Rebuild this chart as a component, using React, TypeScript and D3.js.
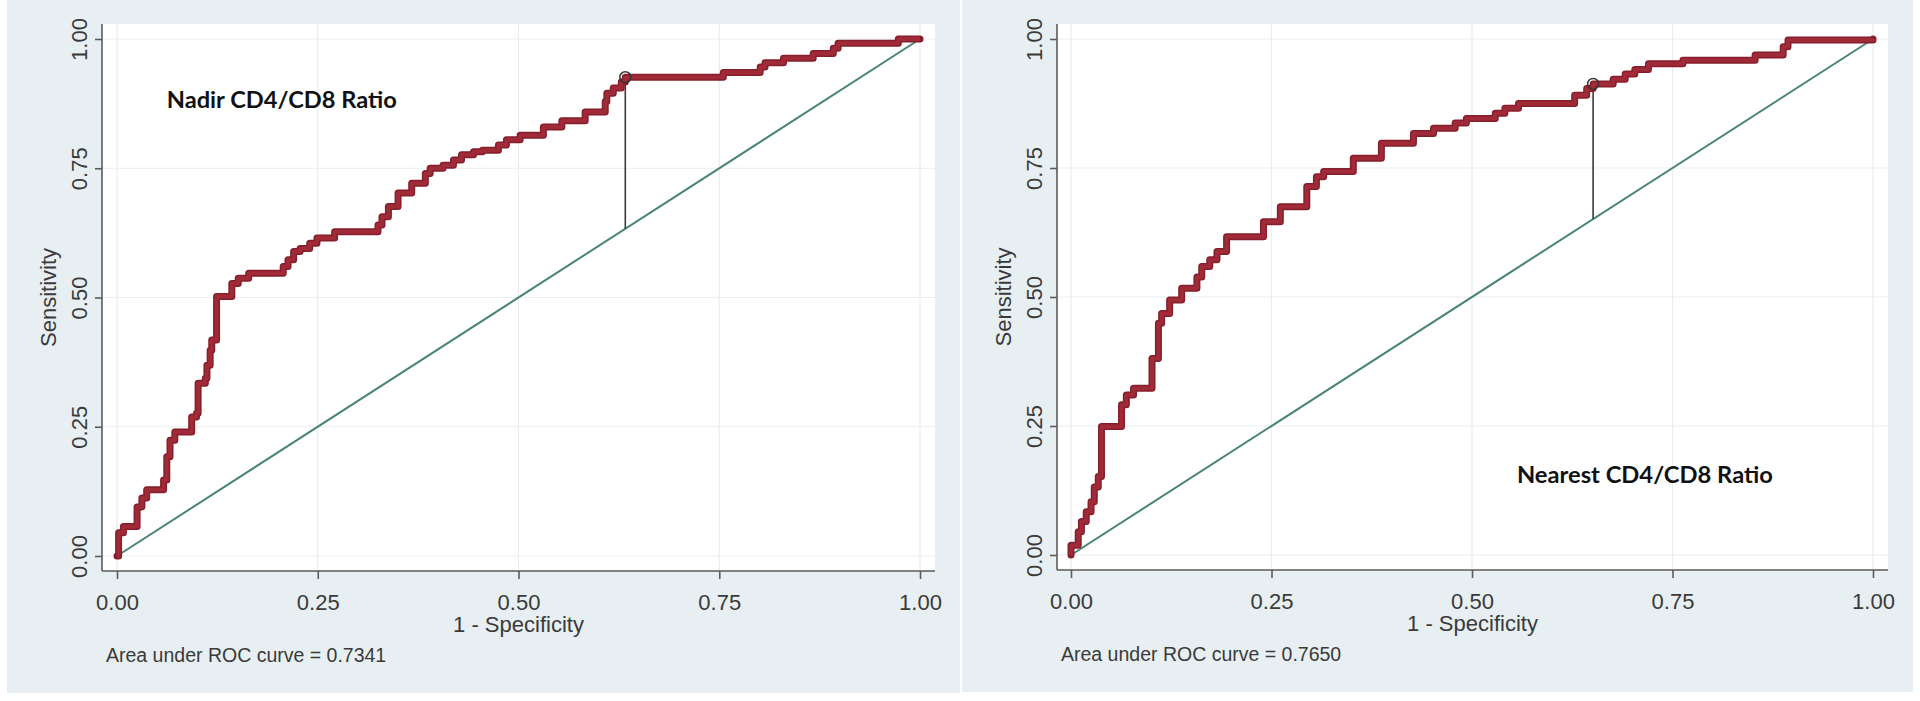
import React, { useEffect, useRef } from 'react';
import * as d3 from 'd3';

const tickValues = [0, 0.25, 0.5, 0.75, 1];

// Nadir CD4/CD8 ratio: ROC step points (1 - specificity, sensitivity)
const nadirFpr = [0, 0.002, 0.008, 0.025, 0.031, 0.037, 0.058, 0.062, 0.066, 0.072, 0.093, 0.099, 0.101, 0.110, 0.112, 0.116, 0.118, 0.124, 0.143, 0.151, 0.164, 0.207, 0.213, 0.220, 0.228, 0.240, 0.249, 0.271, 0.325, 0.330, 0.338, 0.350, 0.367, 0.384, 0.390, 0.406, 0.419, 0.429, 0.444, 0.455, 0.475, 0.485, 0.502, 0.531, 0.554, 0.583, 0.608, 0.610, 0.618, 0.628, 0.633, 0.755, 0.801, 0.807, 0.830, 0.867, 0.892, 0.898, 0.973, 1.0];
const nadirTpr = [0, 0.045, 0.057, 0.095, 0.112, 0.128, 0.147, 0.192, 0.224, 0.240, 0.269, 0.276, 0.334, 0.344, 0.369, 0.398, 0.418, 0.502, 0.527, 0.537, 0.547, 0.560, 0.573, 0.589, 0.595, 0.605, 0.615, 0.627, 0.640, 0.656, 0.676, 0.702, 0.721, 0.740, 0.750, 0.756, 0.766, 0.776, 0.782, 0.785, 0.795, 0.805, 0.814, 0.830, 0.842, 0.859, 0.879, 0.895, 0.905, 0.917, 0.926, 0.935, 0.946, 0.954, 0.963, 0.972, 0.982, 0.992, 1.0, 1.0];
const nadirCut = [0.633, 0.926];

// Nearest CD4/CD8 ratio
const nearestFpr = [0, 0, 0.009, 0.013, 0.019, 0.025, 0.029, 0.034, 0.038, 0.063, 0.069, 0.078, 0.101, 0.109, 0.113, 0.123, 0.138, 0.157, 0.163, 0.173, 0.182, 0.194, 0.240, 0.261, 0.294, 0.306, 0.315, 0.352, 0.387, 0.427, 0.452, 0.479, 0.493, 0.529, 0.541, 0.558, 0.628, 0.643, 0.651, 0.676, 0.691, 0.703, 0.720, 0.763, 0.853, 0.888, 0.894, 1.0];
const nearestTpr = [0, 0.019, 0.045, 0.065, 0.084, 0.103, 0.132, 0.152, 0.249, 0.291, 0.310, 0.323, 0.381, 0.449, 0.468, 0.494, 0.517, 0.539, 0.559, 0.572, 0.588, 0.617, 0.646, 0.675, 0.714, 0.733, 0.743, 0.769, 0.798, 0.817, 0.827, 0.837, 0.846, 0.856, 0.866, 0.875, 0.891, 0.904, 0.913, 0.922, 0.932, 0.941, 0.952, 0.959, 0.969, 0.985, 0.998, 1.0];
const nearestCut = [0.651, 0.913];

const panelTitles = ['Nadir CD4/CD8 Ratio', 'Nearest CD4/CD8 Ratio'];
const aucValues = ['0.7341', '0.7650'];
const titlePos = [[0.062, 0.867], [0.556, 0.14]];

const panels = [
  { bg: [7, 960, 0, 693], plot: [102, 935, 24, 571], xr: [117, 920], yr: [556, 39], titleW: 230, fpr: nadirFpr, tpr: nadirTpr, cut: nadirCut },
  { bg: [962, 1913, 0, 692], plot: [1057, 1888, 24, 570], xr: [1071, 1873], yr: [555, 39], titleW: 256, fpr: nearestFpr, tpr: nearestTpr, cut: nearestCut },
];

const sans = '"Liberation Sans", Arial, sans-serif';

const App: React.FC = () => {
  const ref = useRef<SVGSVGElement>(null);

  useEffect(() => {
    const svg = d3.select(ref.current);
    svg.selectAll('*').remove();

    panels.forEach((p, k) => {
      const g = svg.append('g');
      const x = d3.scaleLinear().domain([0, 1]).range(p.xr);
      const y = d3.scaleLinear().domain([0, 1]).range(p.yr);
      const [px0, px1, py0, py1] = p.plot;

      // backgrounds
      g.append('rect')
        .attr('x', p.bg[0]).attr('y', p.bg[2])
        .attr('width', p.bg[1] - p.bg[0]).attr('height', p.bg[3] - p.bg[2])
        .attr('fill', '#e8eff2');
      g.append('rect')
        .attr('x', px0).attr('y', py0)
        .attr('width', px1 - px0).attr('height', py1 - py0)
        .attr('fill', '#ffffff');

      // grid
      g.selectAll('.gx').data(tickValues).enter().append('line')
        .attr('x1', d => x(d)).attr('x2', d => x(d))
        .attr('y1', py0).attr('y2', py1)
        .attr('stroke', '#e9eef0').attr('stroke-width', 1.2);
      g.selectAll('.gy').data(tickValues).enter().append('line')
        .attr('x1', px0).attr('x2', px1)
        .attr('y1', d => y(d)).attr('y2', d => y(d))
        .attr('stroke', '#e9eef0').attr('stroke-width', 1.2);

      // reference diagonal
      g.append('line')
        .attr('x1', x(0)).attr('y1', y(0)).attr('x2', x(1)).attr('y2', y(1))
        .attr('stroke', '#4a8574').attr('stroke-width', 2);

      // cutoff drop line
      g.append('line')
        .attr('x1', x(p.cut[0])).attr('x2', x(p.cut[0]))
        .attr('y1', y(p.cut[1])).attr('y2', y(p.cut[0]))
        .attr('stroke', '#3a3a3a').attr('stroke-width', 1.6);

      // ROC curve
      const line = d3.line<number>()
        .x((d, i) => x(p.fpr[i]))
        .y(d => y(d))
        .curve(d3.curveStepAfter);
      g.append('path')
        .datum(p.tpr)
        .attr('fill', 'none')
        .attr('stroke', '#861f2b')
        .attr('stroke-width', 7)
        .attr('stroke-linejoin', 'round')
        .attr('stroke-linecap', 'round')
        .attr('d', line);
      g.append('path')
        .datum(p.tpr)
        .attr('fill', 'none')
        .attr('stroke', '#a02a38')
        .attr('stroke-width', 4)
        .attr('stroke-linejoin', 'round')
        .attr('d', line);

      // cutoff marker
      g.append('circle')
        .attr('cx', x(p.cut[0])).attr('cy', y(p.cut[1])).attr('r', 5.5)
        .attr('fill', 'none').attr('stroke', '#333').attr('stroke-width', 1.5);

      // axis lines
      g.append('line').attr('x1', px0).attr('x2', px0).attr('y1', py0).attr('y2', py1)
        .attr('stroke', '#5a5a5a').attr('stroke-width', 1.6);
      g.append('line').attr('x1', px0).attr('x2', px1).attr('y1', py1).attr('y2', py1)
        .attr('stroke', '#5a5a5a').attr('stroke-width', 1.6);

      // x axis
      const xa = g.append('g').attr('transform', `translate(0,${py1})`)
        .call(d3.axisBottom(x).tickValues(tickValues).tickFormat(d3.format('.2f')).tickSize(8));
      xa.select('.domain').remove();
      xa.selectAll('line').attr('stroke', '#5a5a5a').attr('stroke-width', 1.6);
      xa.selectAll('text').attr('y', 39).attr('dy', 0)
        .attr('fill', '#3a3a3a').style('font-family', sans).style('font-size', '22px');

      // y axis
      const ya = g.append('g').attr('transform', `translate(${px0},0)`)
        .call(d3.axisLeft(y).tickValues(tickValues).tickFormat(d3.format('.2f')).tickSize(7));
      ya.select('.domain').remove();
      ya.selectAll('line').attr('stroke', '#5a5a5a').attr('stroke-width', 1.6);
      ya.selectAll('text')
        .attr('transform', 'rotate(-90)')
        .attr('x', 0).attr('y', -15).attr('dy', 0)
        .attr('text-anchor', 'middle')
        .attr('fill', '#3a3a3a').style('font-family', sans).style('font-size', '22px');

      // axis titles
      g.append('text')
        .attr('transform', `translate(${px0 - 46},${(py0 + py1) / 2}) rotate(-90)`)
        .attr('text-anchor', 'middle')
        .attr('fill', '#3a3a3a').style('font-family', sans).style('font-size', '22px')
        .text('Sensitivity');
      g.append('text')
        .attr('x', (px0 + px1) / 2).attr('y', py1 + 61)
        .attr('text-anchor', 'middle')
        .attr('fill', '#3a3a3a').style('font-family', sans).style('font-size', '22px')
        .text('1 - Specificity');

      // note
      g.append('text')
        .attr('x', px0 + 4).attr('y', py1 + 91)
        .attr('fill', '#3a3a3a').style('font-family', sans).style('font-size', '19.5px')
        .text(`Area under ROC curve = ${aucValues[k]}`);

      // panel title
      g.append('text')
        .attr('x', x(titlePos[k][0])).attr('y', y(titlePos[k][1]))
        .attr('textLength', p.titleW).attr('lengthAdjust', 'spacingAndGlyphs')
        .attr('fill', '#111')
        .style('font-family', 'Lato, "Open Sans", sans-serif')
        .style('font-weight', 700).style('font-size', '23px')
        .text(panelTitles[k]);
    });
  }, []);

  return (
    <>
      <style>{'body{margin:0;background:#fff}'}</style>
      <svg ref={ref} width={1920} height={701} style={{ display: 'block' }}></svg>
    </>
  );
};

export default App;
